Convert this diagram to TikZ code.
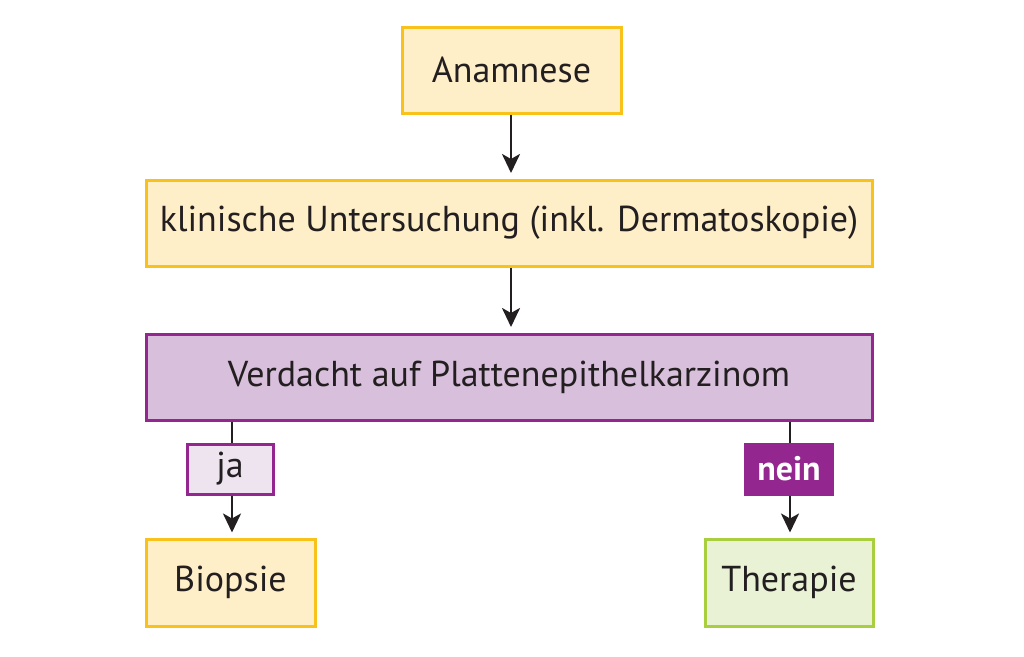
\documentclass[tikz,border=0pt]{standalone}
\usepackage{fontspec}
\setmainfont{PT Sans}
\usetikzlibrary{arrows.meta}
\definecolor{yfill}{HTML}{FEEFC8}
\definecolor{ydraw}{HTML}{F9C21B}
\definecolor{pfill}{HTML}{D8BFDC}
\definecolor{pdraw}{HTML}{93278F}
\definecolor{lpfill}{HTML}{EDE4F0}
\definecolor{gfill}{HTML}{E9F2D5}
\definecolor{gdraw}{HTML}{A9CF3F}
\definecolor{ink}{HTML}{231F20}
\tikzset{
  box/.style={draw, line width=3pt, inner sep=0pt, font=\fontsize{36}{42}\selectfont, text=ink},
  ybox/.style={box, fill=yfill, draw=ydraw},
  pbox/.style={box, fill=pfill, draw=pdraw},
  gbox/.style={box, fill=gfill, draw=gdraw},
  conn/.style={draw=ink, line width=2.6pt},
  arr/.style={conn, -{Stealth[inset=5pt, length=19pt, width=18pt]}, shorten >=7pt},
}
\begin{document}
\begin{tikzpicture}[x=1pt,y=-1pt]
\useasboundingbox (0,0) rectangle (1024,656);
\fill[white] (0,0) rectangle (1024,656);
\node[ybox, minimum width=219pt, minimum height=86pt] (anam) at (511.5,70) {Anamnese};
\node[ybox, minimum width=726pt, minimum height=86pt] (klin) at (509,223) {klinische Untersuchung (inkl. Dermatoskopie)};
\node[pbox, minimum width=726pt, minimum height=86pt] (verd) at (509,377) {Verdacht auf Plattenepithelkarzinom};
\node[box, fill=lpfill, draw=pdraw, minimum width=86pt, minimum height=50pt] (ja) at (230,469) {ja};
\node[box, fill=pdraw, draw=pdraw, text=white, minimum width=87pt, minimum height=50pt, font=\fontsize{34}{40}\selectfont\bfseries] (nein) at (789,469) {nein};
\node[ybox, minimum width=169pt, minimum height=87pt] (biop) at (230.5,582.5) {Biopsie};
\node[gbox, minimum width=168pt, minimum height=87pt] (ther) at (789,582.5) {Therapie};
\coordinate (jx) at (232,469);
\coordinate (nx) at (790,469);
\draw[arr] (anam.south -| 511,0) -- (511,180);
\draw[arr] (klin.south -| 511,0) -- (511,334);
\draw[conn] (verd.south -| jx) -- (ja.north -| jx);
\draw[conn] (verd.south -| nx) -- (nein.north -| nx);
\draw[arr, shorten >=5pt] (ja.south -| jx) -- (biop.north -| jx);
\draw[arr, shorten >=5pt] (nein.south -| nx) -- (ther.north -| nx);
\end{tikzpicture}
\end{document}
